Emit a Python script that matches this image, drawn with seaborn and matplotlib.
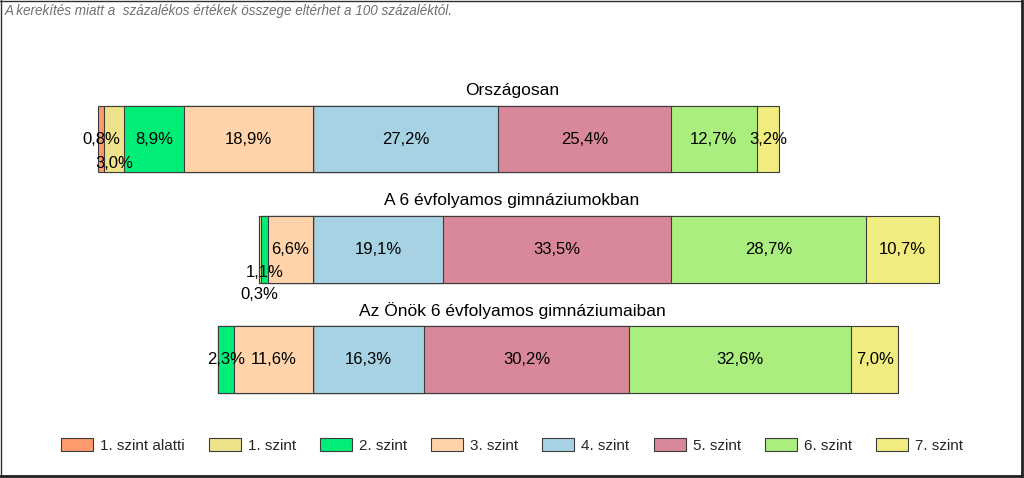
import matplotlib
matplotlib.use("Agg")
import matplotlib.pyplot as plt
import seaborn as sns
import pandas as pd
from matplotlib.lines import Line2D
from matplotlib.patches import Patch

# ---------------- data ----------------
groups = ["Országosan", "A 6 évfolyamos gimnáziumokban", "Az Önök 6 évfolyamos gimnáziumaiban"]
levels = ["1. szint alatti", "1. szint", "2. szint", "3. szint",
          "4. szint", "5. szint", "6. szint", "7. szint"]
orszagos = [0.8, 3.0, 8.9, 18.9, 27.2, 25.4, 12.7, 3.2]
hat_evf = [0.0, 0.3, 1.1, 6.6, 19.1, 33.5, 28.7, 10.7]
onok = [0.0, 0.0, 2.3, 11.6, 16.3, 30.2, 32.6, 7.0]
note = "A kerekítés miatt a  százalékos értékek összege eltérhet a 100 százaléktól."

colors = ["#FF9A6C", "#EEE38A", "#00EE78", "#FFD4AA",
          "#A6D2E4", "#D9889A", "#AAEE80", "#F0EC80"]
edge = "#3C3C3C"

values = [orszagos, hat_evf, onok]

# ---------------- figure ----------------
sns.set_theme(style="white")
plt.rcParams["font.family"] = ["Liberation Sans", "DejaVu Sans"]

W, H = 1024, 478
fig = plt.figure(figsize=(W / 100, H / 100), dpi=100)
ax = fig.add_axes([0, 0, 1, 1])

zero_px, px_per_pct = 313, 6.8
center0_px, spacing_px = 139, 110.2
bar_h = 66.6 / spacing_px

# build layered cumulative bars (diverging at the 3./4. boundary)
df = pd.DataFrame(values, columns=levels)
df.insert(0, "csoport", groups)

right = levels[4:]
left = levels[:4]
layers = []
for k in range(len(right) - 1, -1, -1):
    cum = df[right[:k + 1]].sum(axis=1)
    layers.append((right[k], cum))
for k in range(len(left)):
    cum = -df[left[k:]].sum(axis=1)
    layers.append((left[k], cum))

for lvl, cum in layers:
    d = pd.DataFrame({"csoport": groups, "ertek": cum.values})
    sns.barplot(data=d, x="ertek", y="csoport", orient="h",
                color=colors[levels.index(lvl)], saturation=1,
                width=bar_h, edgecolor=edge, linewidth=0.8, ax=ax,
                errorbar=None)

ax.set_xlim(-zero_px / px_per_pct, (W - zero_px) / px_per_pct)
ax.set_ylim((H - center0_px) / spacing_px, -center0_px / spacing_px)
ax.axis("off")

# value labels
label_offsets = {(0, 1): 24, (1, 2): 23, (1, 1): 45}
for gi, vals in enumerate(values):
    starts = []
    pos = -sum(vals[:4])
    for v in vals:
        starts.append(pos)
        pos += v
    for li, v in enumerate(vals):
        if v <= 0:
            continue
        xc = starts[li] + v / 2
        dy = label_offsets.get((gi, li), 0)
        ax.annotate(f"{v:.1f}".replace(".", ",") + "%", (xc, gi),
                    xytext=(0, -dy * 0.72), textcoords="offset points",
                    ha="center", va="center", fontsize=12, color="black")

# group titles
for gi, g in enumerate(groups):
    ypx = center0_px + gi * spacing_px - 66.6 / 2 - 15.5
    fig.text(0.5, 1 - ypx / H, g, ha="center", va="center", fontsize=12.5, color="black")

# note
fig.text(5 / W, 1 - 10.5 / H, note, ha="left", va="center", fontsize=9.75,
         style="italic", color="#707070")

# legend
handles = [Patch(facecolor=c, edgecolor=edge, linewidth=0.8) for c in colors]
fig.legend(handles, levels, loc="center", bbox_to_anchor=(0.5, 1 - 445.5 / H),
           ncol=8, frameon=False, fontsize=11, handlelength=2.1, handleheight=0.95,
           handletextpad=0.46, columnspacing=1.57, borderpad=0)

# frame
def px_line(x0, y0, x1, y1, lw, c):
    fig.add_artist(Line2D([x0 / W, x1 / W], [1 - y0 / H, 1 - y1 / H],
                          transform=fig.transFigure, lw=lw, color=c))

px_line(0.5, 0, 0.5, 476, 1.0, "#303030")
px_line(0, 0.5, 1022, 0.5, 1.0, "#303030")
px_line(1021.5, 0, 1021.5, 477, 2.0, "#202020")
px_line(0, 475.5, 1022, 475.5, 2.0, "#202020")

fig.savefig("out.png", dpi=100)
